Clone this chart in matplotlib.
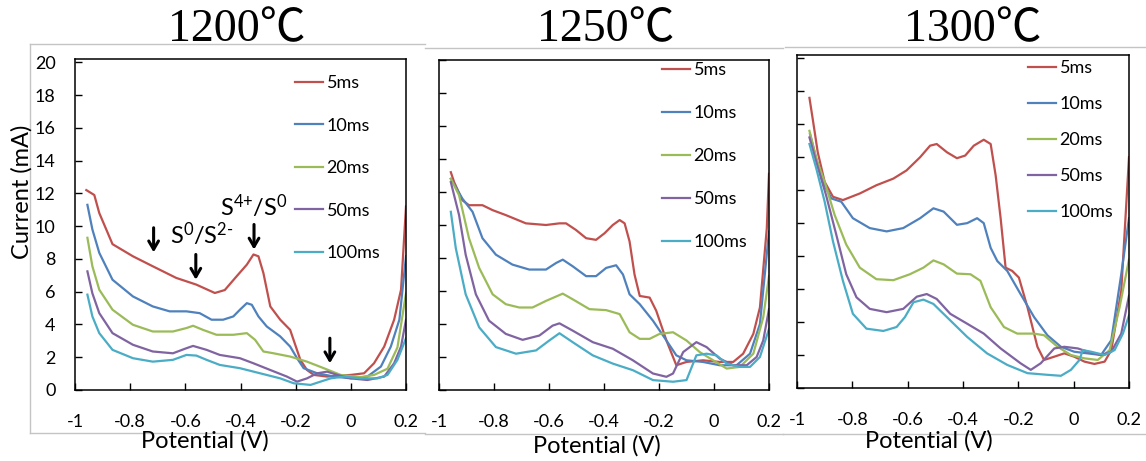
import matplotlib
matplotlib.use('Agg')
import matplotlib.pyplot as plt
from matplotlib.lines import Line2D

plt.rcParams['font.family'] = ['Lato', 'DejaVu Sans']
plt.rcParams['mathtext.fontset'] = 'custom'
plt.rcParams['mathtext.rm'] = 'Lato'
plt.rcParams['mathtext.it'] = 'Lato:italic'
plt.rcParams['mathtext.bf'] = 'Lato:bold'

temps = ['1200℃', '1250℃', '1300℃']
pulses = ['5ms', '10ms', '20ms', '50ms', '100ms']
colors = ['#C0504D', '#4F81BD', '#9BBB59', '#8064A2', '#4BACC6']
xticks = [-1, -0.8, -0.6, -0.4, -0.2, 0, 0.2]
xticklabels = ['-1', '-0.8', '-0.6', '-0.4', '-0.2', '0', '0.2']
yticks = [0, 2, 4, 6, 8, 10, 12, 14, 16, 18, 20]

# ---- 1200 C ----
x1200_5 = [-0.959, -0.93, -0.912, -0.864, -0.79, -0.718, -0.633, -0.56, -0.493, -0.457, -0.414, -0.377, -0.353,
           -0.335, -0.317, -0.292, -0.256, -0.22, -0.183, -0.159, -0.134, -0.086, 0.0, 0.048, 0.084, 0.121, 0.157,
           0.182, 0.2]
y1200_5 = [12.2, 11.9, 10.8, 8.9, 8.16, 7.55, 6.84, 6.43, 5.92, 6.1, 6.94, 7.65, 8.27,
           8.16, 7.14, 5.1, 4.29, 3.67, 1.84, 1.22, 0.92, 0.82, 0.92, 1.02, 1.63, 2.65, 4.29,
           6.12, 11.2]
x1200_10 = [-0.955, -0.937, -0.912, -0.864, -0.79, -0.718, -0.657, -0.596, -0.548, -0.505, -0.463, -0.426, -0.402,
            -0.377, -0.359, -0.335, -0.305, -0.256, -0.22, -0.195, -0.171, -0.122, -0.061, 0.0, 0.06, 0.109, 0.145,
            0.176, 0.2]
y1200_10 = [11.3, 9.8, 8.37, 6.73, 5.71, 5.1, 4.8, 4.8, 4.69, 4.29, 4.29, 4.49, 4.9,
            5.3, 5.2, 4.49, 3.88, 3.27, 2.65, 1.94, 1.33, 1.02, 0.82, 0.71, 0.82, 1.43, 2.65,
            4.29, 8.16]
x1200_20 = [-0.955, -0.937, -0.912, -0.864, -0.79, -0.718, -0.645, -0.596, -0.572, -0.536, -0.487, -0.426, -0.377,
            -0.347, -0.317, -0.28, -0.22, -0.159, -0.098, -0.037, 0.036, 0.084, 0.133, 0.169, 0.2]
y1200_20 = [9.29, 7.55, 6.12, 4.9, 3.98, 3.57, 3.57, 3.78, 3.92, 3.67, 3.37, 3.37, 3.47,
            3.06, 2.35, 2.24, 2.04, 1.73, 1.33, 0.92, 0.78, 0.92, 1.3, 2.6, 5.9]
x1200_50 = [-0.955, -0.937, -0.912, -0.864, -0.79, -0.718, -0.645, -0.596, -0.572, -0.523, -0.475, -0.402, -0.353,
            -0.292, -0.232, -0.195, -0.159, -0.122, -0.086, -0.049, 0.0, 0.06, 0.121, 0.157, 0.182, 0.2]
y1200_50 = [7.24, 5.9, 4.69, 3.47, 2.76, 2.35, 2.24, 2.55, 2.69, 2.45, 2.14, 1.94, 1.63,
            1.22, 0.82, 0.51, 0.71, 1.02, 1.12, 0.92, 0.71, 0.61, 0.82, 1.63, 2.65, 4.29]
x1200_100 = [-0.955, -0.937, -0.912, -0.864, -0.79, -0.718, -0.645, -0.596, -0.56, -0.523, -0.475, -0.402, -0.329,
             -0.256, -0.207, -0.146, -0.11, -0.073, -0.024, 0.036, 0.097, 0.133, 0.169, 0.2]
y1200_100 = [5.82, 4.49, 3.47, 2.45, 1.94, 1.73, 1.84, 2.14, 2.1, 1.84, 1.53, 1.33, 1.02,
             0.71, 0.41, 0.31, 0.51, 0.71, 0.82, 0.71, 0.71, 0.92, 1.84, 3.16]

# ---- 1250 C ----
x1250_5 = [-0.957, -0.945, -0.915, -0.891, -0.842, -0.805, -0.757, -0.684, -0.611, -0.562, -0.538, -0.502, -0.465,
           -0.429, -0.398, -0.368, -0.343, -0.325, -0.307, -0.289, -0.27, -0.234, -0.21, -0.173, -0.137, -0.1,
           -0.04, 0.021, 0.07, 0.106, 0.143, 0.167, 0.192, 0.2]
y1250_5 = [13.2, 12.6, 11.5, 11.2, 11.2, 10.9, 10.6, 10.1, 10.0, 10.1, 10.1, 9.7, 9.2,
           9.1, 9.5, 10.0, 10.3, 10.1, 9.0, 7.0, 5.7, 5.6, 4.8, 3.0, 1.5, 1.7,
           1.8, 1.7, 1.7, 2.2, 3.4, 5.0, 9.8, 13.1]
x1250_10 = [-0.957, -0.915, -0.878, -0.842, -0.793, -0.733, -0.672, -0.611, -0.574, -0.55, -0.514, -0.465, -0.429,
            -0.392, -0.356, -0.331, -0.307, -0.27, -0.222, -0.173, -0.137, -0.1, -0.04, 0.021, 0.082, 0.131,
            0.167, 0.2]
y1250_10 = [12.8, 11.6, 10.8, 9.2, 8.2, 7.6, 7.3, 7.3, 7.7, 7.9, 7.5, 6.9, 6.9,
            7.4, 7.56, 7.0, 5.8, 5.2, 4.2, 3.0, 2.1, 1.8, 1.7, 1.5, 1.5, 2.2,
            4.0, 9.6]
x1250_20 = [-0.957, -0.927, -0.891, -0.854, -0.805, -0.757, -0.708, -0.66, -0.611, -0.55, -0.514, -0.453, -0.392,
            -0.343, -0.307, -0.27, -0.234, -0.198, -0.149, -0.1, -0.052, -0.003, 0.046, 0.094, 0.143, 0.179, 0.2]
y1250_20 = [12.8, 11.8, 9.2, 7.4, 5.8, 5.2, 5.0, 5.0, 5.4, 5.84, 5.5, 4.9, 4.84,
            4.6, 3.5, 3.1, 3.1, 3.4, 3.5, 3.0, 2.3, 1.8, 1.3, 1.4, 2.2, 4.4, 6.9]
x1250_50 = [-0.957, -0.927, -0.903, -0.866, -0.818, -0.757, -0.696, -0.635, -0.587, -0.562, -0.514, -0.441, -0.368,
            -0.295, -0.222, -0.173, -0.149, -0.112, -0.064, -0.027, 0.021, 0.07, 0.119, 0.155, 0.179, 0.2]
y1250_50 = [12.6, 10.6, 8.2, 5.8, 4.2, 3.4, 3.04, 3.3, 3.9, 4.04, 3.6, 2.9, 2.5,
            1.8, 1.0, 0.8, 1.0, 2.3, 2.9, 2.6, 1.9, 1.5, 1.5, 2.0, 3.0, 4.9]
x1250_100 = [-0.957, -0.939, -0.903, -0.854, -0.793, -0.72, -0.647, -0.599, -0.562, -0.514, -0.441, -0.368, -0.295,
             -0.222, -0.149, -0.1, -0.064, -0.027, 0.009, 0.046, 0.094, 0.131, 0.167, 0.2]
y1250_100 = [10.8, 8.6, 5.8, 3.8, 2.6, 2.2, 2.4, 3.0, 3.44, 2.9, 2.1, 1.6, 1.2,
             0.6, 0.5, 0.6, 2.1, 2.2, 2.1, 1.6, 1.4, 1.4, 2.0, 3.7]

# ---- 1300 C ----
x1300_5 = [-0.955, -0.943, -0.925, -0.9, -0.87, -0.834, -0.773, -0.713, -0.652, -0.604, -0.555, -0.519, -0.495,
           -0.458, -0.422, -0.392, -0.361, -0.325, -0.3, -0.282, -0.264, -0.246, -0.222, -0.198, -0.167, -0.131,
           -0.107, -0.07, -0.034, 0.002, 0.039, 0.075, 0.112, 0.136, 0.172, 0.2]
y1300_5 = [17.6, 16.3, 14.3, 12.5, 11.6, 11.4, 11.8, 12.3, 12.7, 13.2, 14.0, 14.7, 14.8,
           14.3, 13.94, 14.1, 14.7, 15.06, 14.8, 12.9, 10.3, 7.3, 7.1, 6.7, 4.9, 2.5,
           1.7, 1.9, 2.1, 1.9, 1.6, 1.46, 1.6, 2.3, 5.9, 14.0]
x1300_10 = [-0.953, -0.93, -0.907, -0.876, -0.84, -0.798, -0.737, -0.676, -0.616, -0.555, -0.507, -0.47, -0.422,
            -0.385, -0.349, -0.325, -0.3, -0.276, -0.24, -0.192, -0.143, -0.095, -0.046, 0.002, 0.051, 0.099,
            0.136, 0.172, 0.2]
y1300_10 = [15.4, 13.9, 12.5, 11.5, 11.3, 10.3, 9.7, 9.5, 9.7, 10.3, 10.9, 10.7, 9.9,
            10.0, 10.3, 10.0, 8.5, 7.7, 7.1, 5.7, 4.3, 3.2, 2.5, 2.2, 2.1, 2.0,
            2.9, 6.9, 10.3]
x1300_20 = [-0.955, -0.93, -0.9, -0.864, -0.822, -0.773, -0.713, -0.652, -0.592, -0.543, -0.507, -0.47, -0.422,
            -0.373, -0.337, -0.3, -0.252, -0.204, -0.143, -0.107, -0.058, -0.01, 0.039, 0.087, 0.13, 0.166, 0.2]
y1300_20 = [15.6, 13.9, 12.5, 10.5, 8.7, 7.3, 6.6, 6.54, 6.9, 7.3, 7.74, 7.5, 6.94,
            6.9, 6.5, 4.9, 3.7, 3.3, 3.3, 3.2, 2.5, 2.0, 1.8, 1.7, 2.3, 4.9, 7.8]
x1300_50 = [-0.955, -0.93, -0.895, -0.858, -0.822, -0.785, -0.737, -0.676, -0.616, -0.567, -0.531, -0.495, -0.446,
            -0.385, -0.325, -0.264, -0.192, -0.155, -0.119, -0.07, -0.034, 0.015, 0.051, 0.099, 0.136, 0.172, 0.2]
y1300_50 = [15.2, 13.7, 11.7, 9.3, 6.9, 5.5, 4.8, 4.6, 4.8, 5.54, 5.7, 5.4, 4.5,
            3.9, 3.3, 2.4, 1.5, 1.1, 1.5, 2.4, 2.5, 2.4, 2.2, 2.0, 2.2, 3.3, 5.6]
x1300_100 = [-0.955, -0.93, -0.9, -0.87, -0.834, -0.798, -0.749, -0.688, -0.64, -0.61, -0.579, -0.543, -0.507,
             -0.446, -0.385, -0.313, -0.24, -0.167, -0.095, -0.046, -0.01, 0.021, 0.033, 0.063, 0.112, 0.148,
             0.178, 0.2]
y1300_100 = [14.8, 13.3, 11.3, 8.9, 6.5, 4.5, 3.6, 3.46, 3.7, 4.3, 5.2, 5.36, 5.1,
             4.1, 3.1, 2.1, 1.4, 0.9, 0.8, 0.74, 1.1, 1.7, 2.3, 2.2, 2.0, 2.3,
             3.3, 4.4]

panels = [
    [(x1200_5, y1200_5), (x1200_10, y1200_10), (x1200_20, y1200_20), (x1200_50, y1200_50), (x1200_100, y1200_100)],
    [(x1250_5, y1250_5), (x1250_10, y1250_10), (x1250_20, y1250_20), (x1250_50, y1250_50), (x1250_100, y1250_100)],
    [(x1300_5, y1300_5), (x1300_10, y1300_10), (x1300_20, y1300_20), (x1300_50, y1300_50), (x1300_100, y1300_100)],
]

W, H = 1146, 461
fig = plt.figure(figsize=(W / 100, H / 100), dpi=100)

def px(x0, y0, x1, y1):
    # pixel box (top-left origin) -> figure fraction rect
    return [x0 / W, 1 - y1 / H, (x1 - x0) / W, (y1 - y0) / H]

# light grey chart-area borders
grey = '#c4c4c4'
for (xa, ya, xb, yb) in [(30, 44, 30, 433), (30, 44, 425, 44), (30, 433, 425, 433),
                         (425, 48, 783, 48), (425, 434, 783, 434),
                         (785, 47, 1146, 47), (783, 434, 1146, 434)]:
    fig.add_artist(Line2D([xa / W, xb / W], [1 - ya / H, 1 - yb / H], color=grey, lw=1))

axes_px = [(75, 59, 406, 390), (439, 60, 769, 390), (797, 55, 1129, 388)]
ytops = [20.2, 20.0, 20.2]
legend_px = [(295, 75, 1.47), (662, 62, 1.5), (1028, 60, 1.11)]
title_x = [237, 606, 973]
xlabel_pos = [(205, 441), (597, 446), (929, 441)]

for k, ax_box in enumerate(axes_px):
    ax = fig.add_axes(px(*ax_box))
    for (xs, ys), c, lab in zip(panels[k], colors, pulses):
        ax.plot(xs, ys, color=c, lw=1.6, label=lab)
    ax.set_xlim(-1, 0.2)
    ax.set_ylim(0, ytops[k])
    ax.set_xticks(xticks)
    ax.set_xticklabels(xticklabels)
    ax.set_yticks(yticks)
    ax.tick_params(axis='x', direction='in', length=5, width=1, pad=17, labelsize=13)
    ax.tick_params(axis='y', direction='in', length=5, width=1, pad=14, labelsize=13,
                   labelleft=(k == 0))
    for s in ax.spines.values():
        s.set_linewidth(1.1)
    lx, ly, sp = legend_px[k]
    ax.legend(loc='upper left', bbox_to_anchor=(lx / W, 1 - ly / H), bbox_transform=fig.transFigure,
              frameon=False, fontsize=13, handlelength=1.55, handletextpad=0.2,
              labelspacing=sp, borderpad=0, borderaxespad=0)
    fig.text(title_x[k] / W, 1 - 30 / H, temps[k], ha='center', va='center', fontsize=33,
             family=['Liberation Serif', 'Noto Sans CJK JP', 'DejaVu Sans'])
    fig.text(xlabel_pos[k][0] / W, 1 - xlabel_pos[k][1] / H, 'Potential (V)', ha='center', va='center',
             fontsize=17)
    if k == 0:
        fig.text(22 / W, 1 - 192 / H, 'Current (mA)', ha='center', va='center', rotation=90, fontsize=17)
        # redox annotations
        for (xa, ya, yb) in [(-0.715, 9.9, 8.4), (-0.562, 8.27, 6.73), (-0.351, 10.1, 8.57), (-0.076, 3.16, 1.63)]:
            ax.annotate('', xy=(xa, yb), xytext=(xa, ya),
                        arrowprops=dict(arrowstyle='->,head_length=0.6,head_width=0.35', lw=2.2, color='black',
                                        shrinkA=0, shrinkB=0))
        ax.text(-0.54, 9.5, r'S$^{\text{0}}$/S$^{\text{2-}}$', ha='center', va='center', fontsize=17)
        ax.text(-0.353, 11.2, r'S$^{\text{4+}}$/S$^{\text{0}}$', ha='center', va='center', fontsize=17)

fig.savefig('out.png', dpi=100)
